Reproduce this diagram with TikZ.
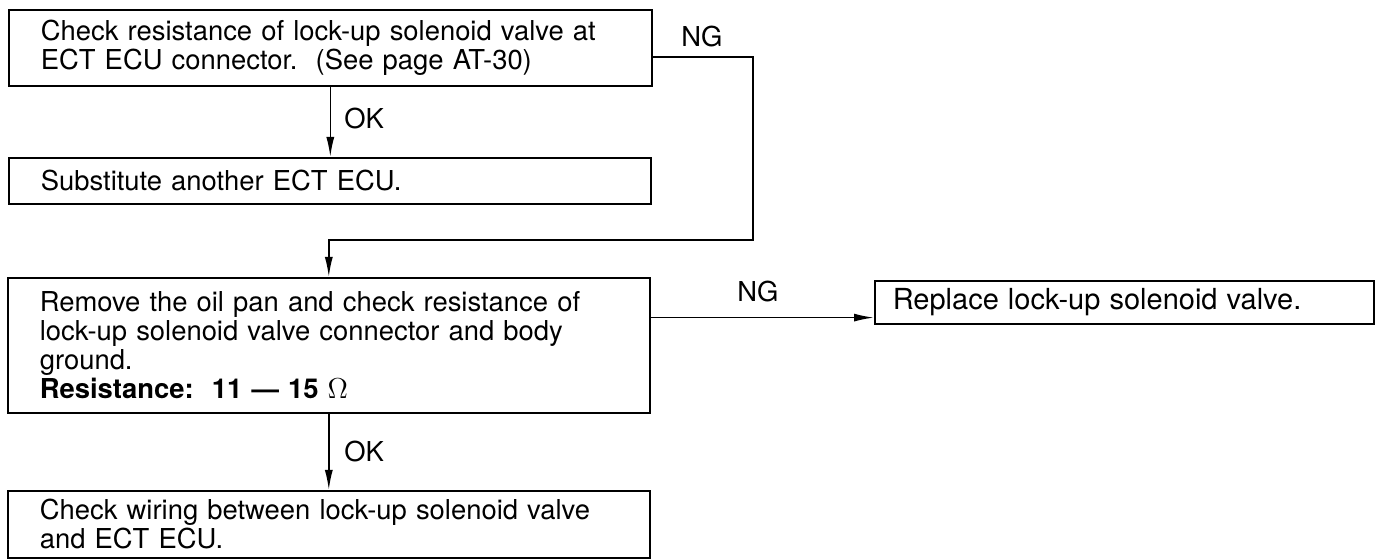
\documentclass[tikz,border=0pt]{standalone}
\usepackage{fontspec}
\setmainfont{TeX Gyre Heros}
\usetikzlibrary{arrows.meta,positioning,calc}
\tikzset{
  chkbox/.style={draw,rectangle,anchor=north west,align=left,inner xsep=16pt,inner ysep=0pt,line width=0.8pt},
  flowarr/.style={-{Latex[length=10pt,width=4pt]},line width=0.8pt},
  flowlab/.style={inner sep=0pt}
}

\begin{document}
\begin{tikzpicture}[x=0.5pt,y=-0.5pt,font=\fontsize{13.7}{14.5}\selectfont]
  \useasboundingbox (0,0) rectangle (1381,560);
  \node[chkbox,text width=289.5pt,minimum height=38pt] (chk) at (8,9) {Check resistance of lock-up solenoid valve at\\ECT ECU connector.\ \ (See page AT-30)};
  \node[chkbox,text width=289pt,minimum height=23pt] (sub) at (8,157) {Substitute another ECT ECU.};
  \node[chkbox,text width=289pt,minimum height=67.5pt] (rem) at (7,277) {Remove the oil pan and check resistance of\\lock-up solenoid valve connector and body\\ground.\\\textbf{Resistance:\ \ 11 --- 15} $\Omega$};
  \node[chkbox,text width=289pt,minimum height=33.5pt] (wir) at (7,490) {Check wiring between lock-up solenoid valve\\and ECT ECU.};
  \node[chkbox,inner xsep=9pt,text width=231.5pt,minimum height=21.5pt] (rep) at (874,280) {\fontsize{14.5}{15}\selectfont Replace lock-up solenoid valve.};
  \coordinate (ngturn) at (753,240);
  \coordinate (ng2end) at ([yshift=3.5pt]rep.south west);
  \draw[flowarr] (chk.south) -- (chk.south |- sub.north);
  \draw[flowarr] ([yshift=-4.5pt]chk.east) -| (ngturn) -| (rem.north);
  \draw[flowarr] (rem.east |- ng2end) -- (ng2end);
  \draw[flowarr] (rem.south) -- (rem.south |- wir.north);
  \node[flowlab,anchor=west] (ok1) at (344,119) {OK};
  \node[flowlab] (ng1) at (702,37) {NG};
  \node[flowlab] (ng2) at (758,292) {NG};
  \node[flowlab,anchor=west] (ok2) at (344,452) {OK};
\end{tikzpicture}
\end{document}
